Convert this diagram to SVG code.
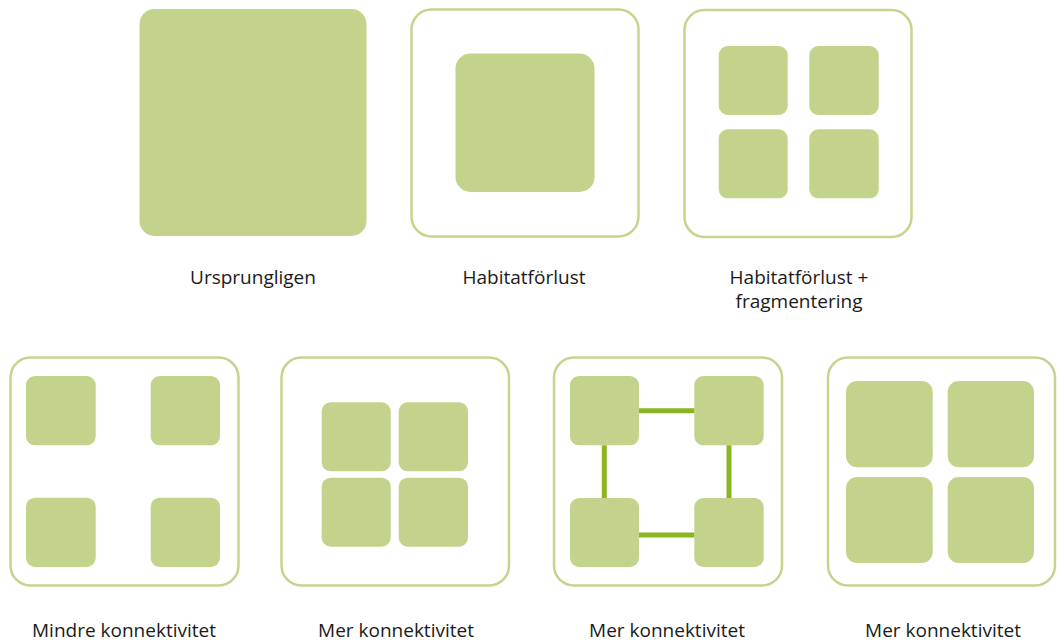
<svg xmlns="http://www.w3.org/2000/svg" width="1059" height="641" viewBox="0 0 1059 641">
<style>
.frame{fill:#fff;stroke:#c5d48c;stroke-width:2.5}
.patch{fill:#c4d38b}
.link{stroke:#8db521;stroke-width:5;fill:none}
.lbl{font-family:"Open Sans","Liberation Sans",sans-serif;font-size:19px;fill:#1a1a1a;text-anchor:middle}
</style>
<rect width="1059" height="641" fill="#fff"/>
<g id="p1">
<rect class="patch" x="139.5" y="9" width="227" height="227" rx="15"/>
<text class="lbl" x="253" y="284">Ursprungligen</text>
</g>
<g id="p2">
<rect class="frame" x="411.5" y="9.5" width="227" height="227" rx="20"/>
<rect class="patch" x="455.5" y="53.5" width="139" height="138.5" rx="15"/>
<text class="lbl" x="524" y="284">Habitatförlust</text>
</g>
<g id="p3">
<rect class="frame" x="684.5" y="10" width="227" height="227" rx="20"/>
<rect class="patch" x="718.7" y="46" width="69" height="69" rx="9"/>
<rect class="patch" x="809.3" y="46" width="69.4" height="69" rx="9"/>
<rect class="patch" x="718.7" y="129.3" width="69" height="69" rx="9"/>
<rect class="patch" x="809.3" y="129.3" width="69.4" height="69" rx="9"/>
<text class="lbl" x="799" y="284">Habitatförlust +</text>
<text class="lbl" x="799" y="308">fragmentering</text>
</g>
<g id="p4">
<rect class="frame" x="10.5" y="357.5" width="228" height="228" rx="20"/>
<rect class="patch" x="26" y="376" width="69.7" height="69.3" rx="9"/>
<rect class="patch" x="150.7" y="376" width="69.3" height="69.3" rx="9"/>
<rect class="patch" x="26" y="497.7" width="69.7" height="69.3" rx="9"/>
<rect class="patch" x="150.7" y="497.7" width="69.3" height="69.3" rx="9"/>
<text class="lbl" x="124" y="637">Mindre konnektivitet</text>
</g>
<g id="p5">
<rect class="frame" x="281.5" y="357.5" width="227.5" height="228" rx="20"/>
<rect class="patch" x="321.7" y="402.3" width="69" height="69" rx="9"/>
<rect class="patch" x="398.7" y="402.3" width="69.3" height="69" rx="9"/>
<rect class="patch" x="321.7" y="477.7" width="69" height="69" rx="9"/>
<rect class="patch" x="398.7" y="477.7" width="69.3" height="69" rx="9"/>
<text class="lbl" x="396" y="637">Mer konnektivitet</text>
</g>
<g id="p6">
<rect class="frame" x="554" y="357.5" width="228" height="228" rx="20"/>
<rect class="patch" x="570" y="376" width="69" height="69.3" rx="9"/>
<rect class="patch" x="694.3" y="376" width="69.4" height="69.3" rx="9"/>
<rect class="patch" x="570" y="498" width="69" height="69" rx="9"/>
<rect class="patch" x="694.3" y="498" width="69.4" height="69" rx="9"/>
<text class="lbl" x="667" y="637">Mer konnektivitet</text>
</g>
<g id="connectors">
<line class="link" x1="639" y1="410.7" x2="694.3" y2="410.7"/>
<line class="link" x1="639" y1="535" x2="694.3" y2="535"/>
<line class="link" x1="604.3" y1="445.3" x2="604.3" y2="498"/>
<line class="link" x1="729" y1="445.3" x2="729" y2="498"/>
</g>
<g id="p7">
<rect class="frame" x="828" y="357.5" width="227" height="228" rx="20"/>
<rect class="patch" x="846" y="381" width="86.7" height="86.3" rx="11"/>
<rect class="patch" x="947.7" y="381" width="86.3" height="86.3" rx="11"/>
<rect class="patch" x="846" y="477" width="86.7" height="86" rx="11"/>
<rect class="patch" x="947.7" y="477" width="86.3" height="86" rx="11"/>
<text class="lbl" x="943" y="637">Mer konnektivitet</text>
</g>
</svg>
